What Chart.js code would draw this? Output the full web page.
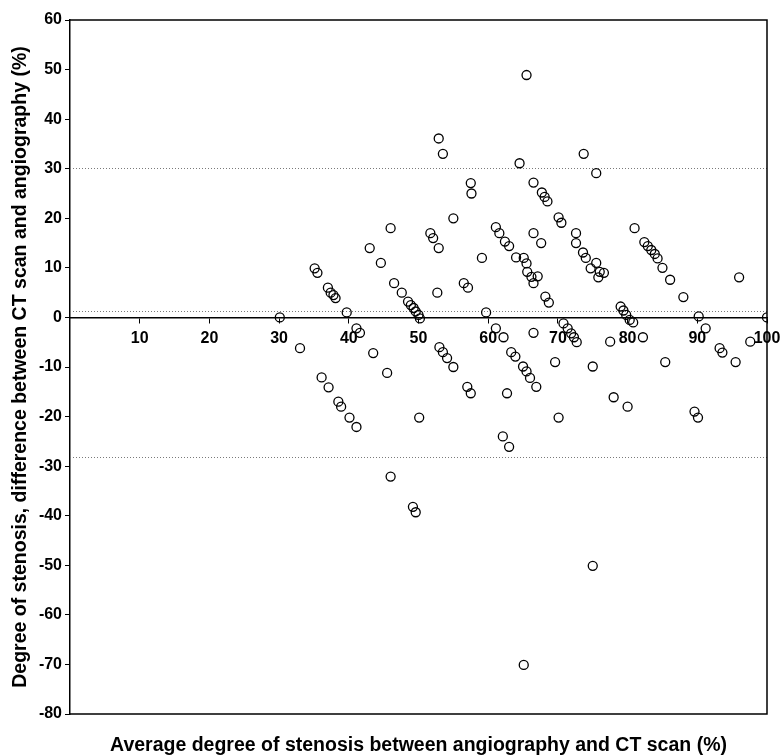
<!DOCTYPE html>
<html>
<head>
<meta charset="UTF-8">
<title>Bland-Altman stenosis</title>
<script src="https://cdn.jsdelivr.net/npm/chart.js@4.4.1/dist/chart.umd.min.js"></script>
<style>
  body { margin: 0; background: #fff; }
  canvas { display: block; }
</style>
</head>
<body>
<canvas id="myChart" width="780" height="755"></canvas>
<script>
// average of the two methods (x) and their difference (y)
const avgStenosis = [
  65.5, 52.9, 53.5, 73.7, 64.5, 75.5, 57.5, 57.6, 66.5, 67.7, 68.1, 68.5,
  70.1, 70.5, 55.0, 46.0, 81.0, 61.1, 61.6, 62.4, 63.0, 51.7, 52.1, 52.9,
  66.5, 67.6, 72.6, 72.6, 43.0, 82.4, 82.9, 83.4, 83.9, 84.3, 85.0, 86.1,
  88.0, 73.6, 74.0, 75.5, 74.7, 76.0, 76.6, 75.8, 59.1, 64.0, 65.1, 65.5,
  65.6, 66.2, 67.1, 66.5, 68.2, 68.7, 44.6, 35.1, 35.5, 96.0, 56.5, 57.1,
  37.0, 37.4, 37.8, 38.1, 46.5, 47.6, 52.7, 48.5, 48.9, 49.3, 49.6, 50.0,
  50.2, 39.7, 59.7, 30.1, 79.0, 79.4, 79.8, 80.3, 80.8, 90.2, 100.0,
  41.1, 41.6, 61.1, 62.2, 66.5, 70.8, 71.4, 71.9, 72.3, 72.7, 77.5, 82.2,
  91.2, 97.6, 33.0, 43.5, 53.0, 53.5, 54.1, 55.0, 63.3, 63.9, 65.0, 65.5,
  66.0, 66.9, 69.6, 75.0, 85.4, 93.2, 93.6, 95.5, 45.5, 36.1, 37.1, 57.0,
  57.5, 62.7, 78.0, 80.0, 38.5, 38.9, 40.1, 41.1, 50.1, 70.1, 89.6, 90.1,
  62.1, 63.0, 46.0, 49.2, 49.6, 75.0, 65.1
];
const diffStenosis = [
  48.9, 36.1, 33.0, 33.0, 31.1, 29.1, 27.1, 25.0, 27.2, 25.2, 24.3, 23.4,
  20.2, 19.1, 20.0, 18.0, 18.0, 18.2, 17.0, 15.3, 14.4, 17.0, 16.0, 14.0,
  17.0, 15.0, 17.0, 15.0, 14.0, 15.2, 14.4, 13.6, 12.8, 11.9, 10.0, 7.6,
  4.1, 13.1, 12.0, 11.0, 9.9, 9.2, 9.0, 8.1, 12.0, 12.1, 12.0, 10.9,
  9.2, 8.2, 8.3, 6.9, 4.2, 3.0, 11.0, 9.9, 9.0, 8.1, 6.9, 6.0,
  6.0, 5.0, 4.5, 3.9, 6.9, 5.0, 5.0, 3.2, 2.5, 1.9, 1.2, 0.5,
  -0.2, 1.0, 1.0, 0.0, 2.2, 1.4, 0.5, -0.5, -1.0, 0.2, 0.0,
  -2.2, -3.1, -2.2, -4.0, -3.1, -1.2, -2.2, -3.2, -4.0, -5.0, -4.9, -4.0,
  -2.2, -4.9, -6.2, -7.2, -6.0, -7.0, -8.2, -10.0, -7.0, -7.9, -9.9, -10.9,
  -12.2, -14.0, -9.0, -9.9, -9.0, -6.2, -7.1, -9.0, -11.2, -12.1, -14.1, -14.0,
  -15.3, -15.3, -16.1, -18.0, -17.0, -18.0, -20.2, -22.1, -20.2, -20.2, -19.0, -20.2,
  -24.0, -26.1, -32.1, -38.2, -39.3, -50.1, -70.1
];
// upper limit, mean difference, lower limit (dotted lines)
const limitLines = [30.1, 1.2, -28.1];
const xTicks = [10, 20, 30, 40, 50, 60, 70, 80, 90, 100];

const points = avgStenosis.map((v, i) => ({ x: v, y: diffStenosis[i] }));

// dotted limit lines + box around the plot
const framePlugin = {
    id: 'frame',
    beforeDatasetsDraw(chart) {
        const ctx = chart.ctx;
        const a = chart.chartArea;
        const ys = chart.scales.y;
        ctx.save();
        ctx.strokeStyle = '#7a7a7a';
        ctx.lineWidth = 1;
        ctx.setLineDash([1, 2]);
        limitLines.forEach(v => {
            const py = Math.round(ys.getPixelForValue(v)) + 0.5;
            ctx.beginPath();
            ctx.moveTo(a.left, py);
            ctx.lineTo(a.right, py);
            ctx.stroke();
        });
        ctx.setLineDash([]);
        ctx.strokeStyle = '#000';
        ctx.lineWidth = 1.5;
        ctx.beginPath();
        ctx.moveTo(a.left, a.top);
        ctx.lineTo(a.right, a.top);
        ctx.lineTo(a.right, a.bottom);
        ctx.lineTo(a.left, a.bottom);
        ctx.stroke();
        ctx.restore();
    }
};

const tickFont = { family: 'Arial, "Liberation Sans", sans-serif', size: 16, weight: 'bold' };
const titleFont = { family: 'Arial, "Liberation Sans", sans-serif', size: 19.5, weight: 'bold' };

const canvas = document.getElementById('myChart');
const myChart = new Chart(canvas, {
    type: 'scatter',
    data: {
        datasets: [{
            data: points,
            pointStyle: 'circle',
            pointRadius: 4.5,
            pointBorderWidth: 1.3,
            pointBorderColor: '#000',
            pointBackgroundColor: 'rgba(0,0,0,0)'
        }]
    },
    options: {
        responsive: false,
        animation: false,
        layout: { padding: { top: 20, right: 13, left: 0, bottom: 0 } },
        plugins: {
            legend: { display: false },
            tooltip: { enabled: false },
            title: {
                display: true,
                position: 'bottom',
                fullSize: false,
                text: 'Average degree of stenosis between angiography and CT scan (%)',
                color: '#000',
                font: Object.assign({}, titleFont, { lineHeight: 1.0 }),
                padding: { top: 21.5, bottom: 0 }
            }
        },
        scales: {
            x: {
                type: 'linear',
                position: { y: 0 },
                min: 0,
                max: 100,
                afterBuildTicks: (scale) => {
                    scale.ticks = xTicks.map(v => ({ value: v }));
                },
                afterFit: (scale) => {
                    scale.paddingLeft = 0;
                    scale.paddingRight = 0;
                },
                ticks: {
                    color: '#000',
                    font: tickFont,
                    padding: 7,
                    maxRotation: 0,
                    autoSkip: false
                },
                grid: {
                    drawOnChartArea: false,
                    drawTicks: true,
                    tickLength: 5,
                    color: '#000',
                    lineWidth: 1
                },
                border: { display: true, color: '#000', width: 1.5 }
            },
            y: {
                type: 'linear',
                position: 'left',
                min: -80,
                max: 60,
                afterFit: (scale) => { scale.width = 70; },
                ticks: {
                    stepSize: 10,
                    color: '#000',
                    font: tickFont,
                    padding: 3
                },
                grid: {
                    drawOnChartArea: false,
                    drawTicks: true,
                    tickLength: 5,
                    color: '#000',
                    lineWidth: 1
                },
                border: { display: true, color: '#000', width: 1.5 },
                title: {
                    display: true,
                    text: 'Degree of stenosis, difference between CT scan and angiography (%)',
                    color: '#000',
                    font: titleFont,
                    padding: { top: 9, bottom: 0 }
                }
            }
        }
    },
    plugins: [framePlugin]
});
</script>
</body>
</html>
